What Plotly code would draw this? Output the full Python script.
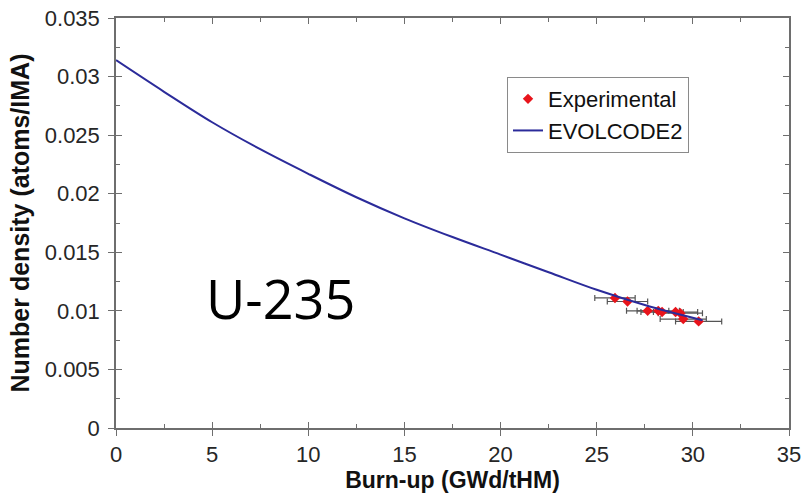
import plotly.graph_objects as go

# EVOLCODE2 calculation
burnup_model = [0, 2.5, 5, 7.5, 10, 12.5, 15, 17.5, 20, 22.5, 25, 27.5, 30.5]
density_model = [0.0314, 0.0287, 0.0261, 0.0238, 0.0217, 0.0197, 0.0179,
                 0.0163, 0.0148, 0.0133, 0.0118, 0.0105, 0.0092]

# Experimental points
burnup_exp = [25.95, 26.6, 27.65, 28.2, 28.4, 29.1, 29.35, 29.5, 30.3]
density_exp = [0.0111, 0.0108, 0.0100, 0.0100, 0.0099, 0.0099, 0.0098, 0.0093, 0.0091]
burnup_err = [1.05, 1.05, 1.1, 1.1, 1.1, 1.15, 1.15, 1.2, 1.2]

x_ticks = [0, 5, 10, 15, 20, 25, 30, 35]
y_ticks = [0, 0.005, 0.01, 0.015, 0.02, 0.025, 0.03, 0.035]
y_ticklabels = ["0", "0.005", "0.01", "0.015", "0.02", "0.025", "0.03", "0.035"]

AX = "#6e6e6e"
FONT = "Liberation Sans, Arial, sans-serif"

fig = go.Figure()

fig.add_trace(go.Scatter(
    x=burnup_exp, y=density_exp, mode="markers", name="Experimental",
    marker=dict(symbol="diamond", size=8, color="#e8141b"),
    error_x=dict(type="data", array=burnup_err, color="#555555", thickness=1.2, width=3),
))
fig.add_trace(go.Scatter(
    x=burnup_model, y=density_model, mode="lines", name="EVOLCODE2",
    line=dict(color="#2b2b9a", width=2, shape="spline"),
))
# helper trace for the inner-tick overlay axes
fig.add_trace(go.Scatter(x=[], y=[], xaxis="x2", yaxis="y2", showlegend=False, hoverinfo="skip"))

fig.add_annotation(x=4.6, y=0.0111, xref="x", yref="y", text="U-235", showarrow=False,
                   xanchor="left", yanchor="middle",
                   font=dict(family="Open Sans, sans-serif", size=54, color="black"))

common_tick_font = dict(family=FONT, size=22, color="#262626")

fig.update_layout(
    width=802, height=502,
    margin=dict(l=116, r=13, t=18, b=74),
    paper_bgcolor="white", plot_bgcolor="white",
    showlegend=True,
    legend=dict(x=0.581, y=0.856, xanchor="left", yanchor="top",
                bgcolor="white", bordercolor="#8a8a8a", borderwidth=1,
                font=dict(family=FONT, size=22, color="#111111"),
                itemwidth=30, tracegroupgap=0),
    xaxis=dict(range=[0, 35], tickvals=x_ticks, ticks="outside", ticklen=6, tickwidth=1.3,
               tickcolor=AX, showline=True, linecolor=AX, linewidth=1.5, mirror=True,
               showgrid=False, zeroline=False, tickfont=common_tick_font, automargin=False,
               ticklabelstandoff=0,
               title=dict(text="<b>Burn-up (GWd/tHM)</b>", standoff=6,
                          font=dict(family=FONT, size=23, color="#111111"))),
    yaxis=dict(range=[0, 0.035], tickvals=y_ticks, ticktext=y_ticklabels, ticks="outside",
               ticklen=6, tickwidth=1.3, tickcolor=AX, showline=True, linecolor=AX,
               linewidth=1.5, mirror=True, showgrid=False, zeroline=False, automargin=False,
               tickfont=common_tick_font, ticklabelstandoff=4,
               title=dict(text="<b>Number density (atoms/IMA)</b>", standoff=8,
                          font=dict(family=FONT, size=25, color="#111111"))),
    xaxis2=dict(overlaying="x", side="bottom", range=[0, 35], tickvals=x_ticks,
                ticks="inside", ticklen=6, tickwidth=1.3, tickcolor=AX, mirror="ticks",
                showline=False, showgrid=False, zeroline=False, showticklabels=False,
                minor=dict(dtick=2.5, ticks="inside", ticklen=4, tickcolor=AX, showgrid=False)),
    yaxis2=dict(overlaying="y", side="left", range=[0, 0.035], tickvals=y_ticks,
                ticks="inside", ticklen=6, tickwidth=1.3, tickcolor=AX, mirror="ticks",
                showline=False, showgrid=False, zeroline=False, showticklabels=False,
                minor=dict(dtick=0.0025, ticks="inside", ticklen=4, tickcolor=AX, showgrid=False)),
)

fig.write_html("out.html")
